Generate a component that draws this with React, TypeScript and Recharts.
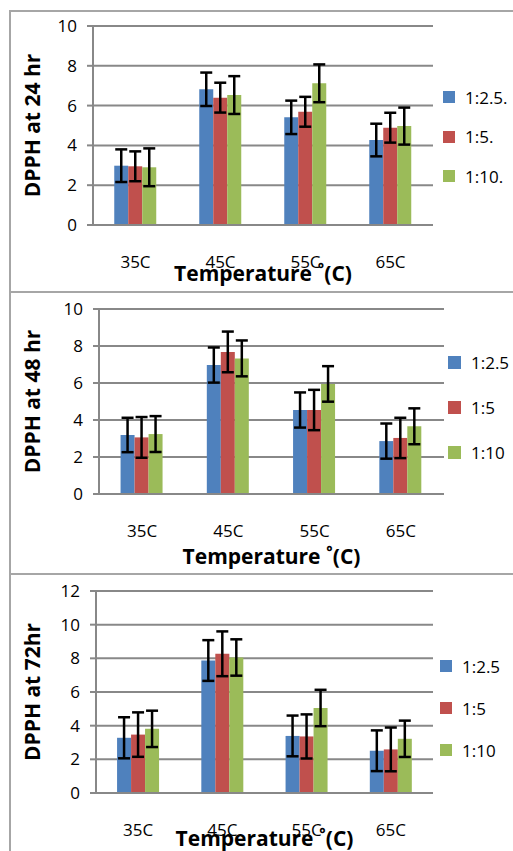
import { BarChart, Bar, XAxis, YAxis, CartesianGrid, ErrorBar, Legend } from 'recharts';

const categories = ['35C', '45C', '55C', '65C'];
const seriesKeys = ['blue', 'red', 'green'];
const seriesColors = ['#4F81BD', '#C0504D', '#9BBB59'];

// 24 hr
const names24 = ['1:2.5.', '1:5.', '1:10.'];
const blue24 = [2.98, 6.82, 5.41, 4.27];
const red24 = [2.95, 6.4, 5.69, 4.89];
const green24 = [2.9, 6.53, 7.12, 4.97];
const blueErr24 = [0.82, 0.84, 0.84, 0.82];
const redErr24 = [0.75, 0.75, 0.75, 0.75];
const greenErr24 = [0.95, 0.95, 0.95, 0.93];
const ticks24 = [0, 2, 4, 6, 8, 10];

// 48 hr
const names48 = ['1:2.5', '1:5', '1:10'];
const blue48 = [3.19, 6.97, 4.54, 2.86];
const red48 = [3.06, 7.68, 4.54, 3.03];
const green48 = [3.24, 7.33, 5.95, 3.66];
const blueErr48 = [0.93, 0.95, 0.95, 0.95];
const redErr48 = [1.1, 1.1, 1.09, 1.09];
const greenErr48 = [0.97, 0.97, 0.96, 0.97];
const ticks48 = [0, 2, 4, 6, 8, 10];

// 72 hr
const names72 = ['1:2.5', '1:5', '1:10'];
const blue72 = [3.28, 7.87, 3.39, 2.51];
const red72 = [3.47, 8.27, 3.36, 2.59];
const green72 = [3.81, 8.05, 5.05, 3.22];
const blueErr72 = [1.22, 1.21, 1.21, 1.21];
const redErr72 = [1.32, 1.33, 1.31, 1.3];
const greenErr72 = [1.08, 1.08, 1.08, 1.08];
const ticks72 = [0, 2, 4, 6, 8, 10, 12];

const xTitle = 'Temperature \u02DA(C)';

function buildRows(vals: number[][], errs: number[][]) {
  return categories.map((cat, i) => ({
    cat,
    blue: vals[0][i],
    red: vals[1][i],
    green: vals[2][i],
    blueErr: errs[0][i],
    redErr: errs[1][i],
    greenErr: errs[2][i],
  }));
}

const FONT = "'Open Sans', sans-serif";
const GRID = '#888888';

interface PanelProps {
  top: number;
  height: number;
  rows: any[];
  names: string[];
  ticks: number[];
  yLabel: string;
  plotTop: number;
  plotLeft: number;
  plotRight: number;
  xAxisHeight: number;
  titleOffset: number;
  legendLeft: number;
  legendTop: number;
  legendGap: number;
  swatch: number;
}

function LegendBox({ names, gap, swatch }: { names: string[]; gap: number; swatch: number }) {
  return (
    <div style={{ display: 'flex', flexDirection: 'column', gap: gap - 24 }}>
      {names.map((n, i) => (
        <div key={n} style={{ display: 'flex', alignItems: 'center', height: 24 }}>
          <span style={{ width: swatch, height: swatch, background: seriesColors[i], display: 'inline-block' }} />
          <span style={{ marginLeft: 10, fontSize: 17, fontFamily: FONT, color: '#000', whiteSpace: 'nowrap' }}>{n}</span>
        </div>
      ))}
    </div>
  );
}

function Panel(p: PanelProps) {
  const max = p.ticks[p.ticks.length - 1];
  return (
    <div style={{ position: 'absolute', left: 0, top: p.top }}>
      <BarChart
        width={513}
        height={p.height}
        data={p.rows}
        margin={{ top: p.plotTop, right: 513 - p.plotRight, left: 0, bottom: 0 }}
        barCategoryGap="25%"
        barGap={0}
      >
        <CartesianGrid horizontal vertical={false} stroke={GRID} strokeWidth={2} />
        <XAxis
          dataKey="cat"
          height={p.xAxisHeight}
          tickLine={false}
          axisLine={{ stroke: GRID, strokeWidth: 2 }}
          tickMargin={25}
          tick={{ fill: '#000', fontSize: 17, fontFamily: FONT }}
          label={{
            value: xTitle,
            position: 'insideTop',
            offset: p.titleOffset,
            style: { fill: '#000', fontSize: 21, fontWeight: 700, fontFamily: FONT },
          }}
        />
        <YAxis
          domain={[0, max]}
          ticks={p.ticks}
          width={p.plotLeft}
          axisLine={{ stroke: GRID, strokeWidth: 2 }}
          tickLine={{ stroke: GRID, strokeWidth: 2 }}
          tickSize={6}
          tickMargin={10}
          tick={{ fill: '#000', fontSize: 17, fontFamily: FONT }}
          label={{
            value: p.yLabel,
            angle: -90,
            position: 'insideLeft',
            offset: 33,
            style: { fill: '#000', fontSize: 21, fontWeight: 700, fontFamily: FONT, textAnchor: 'middle' },
          }}
        />
        <Legend
          layout="horizontal"
          verticalAlign="middle"
          align="center"
          wrapperStyle={{ left: p.legendLeft, top: p.legendTop, width: 80 }}
          content={() => <LegendBox names={p.names} gap={p.legendGap} swatch={p.swatch} />}
        />
        {seriesKeys.map((k, i) => (
          <Bar key={k} dataKey={k} name={p.names[i]} fill={seriesColors[i]} isAnimationActive={false}>
            <ErrorBar dataKey={k + 'Err'} width={6} strokeWidth={2.5} stroke="#000" direction="y" />
          </Bar>
        ))}
      </BarChart>
    </div>
  );
}

const borderColor = '#a6a6a6';

export default function App() {
  return (
    <div style={{ position: 'absolute', left: 0, top: 0, width: 513, height: 851, overflow: 'hidden', background: '#fff' }}>
      <div style={{ position: 'absolute', left: 9, top: 10, width: 520, height: 283, boxSizing: 'border-box', border: `2px solid ${borderColor}` }} />
      <div style={{ position: 'absolute', left: 9, top: 291, width: 520, height: 284, boxSizing: 'border-box', border: `2px solid ${borderColor}` }} />
      <div style={{ position: 'absolute', left: 9, top: 573, width: 520, height: 300, boxSizing: 'border-box', border: `2px solid ${borderColor}` }} />
      <Panel
        top={0}
        height={292}
        rows={buildRows([blue24, red24, green24], [blueErr24, redErr24, greenErr24])}
        names={names24}
        ticks={ticks24}
        yLabel="DPPH at 24 hr"
        plotTop={26}
        plotLeft={93}
        plotRight={433}
        xAxisHeight={67}
        titleOffset={41}
        legendLeft={443}
        legendTop={85}
        legendGap={39.5}
        swatch={12}
      />
      <Panel
        top={292}
        height={282}
        rows={buildRows([blue48, red48, green48], [blueErr48, redErr48, greenErr48])}
        names={names48}
        ticks={ticks48}
        yLabel="DPPH at 48 hr"
        plotTop={17}
        plotLeft={99}
        plotRight={444}
        xAxisHeight={80}
        titleOffset={55}
        legendLeft={448}
        legendTop={58}
        legendGap={45}
        swatch={13}
      />
      <Panel
        top={574}
        height={277}
        rows={buildRows([blue72, red72, green72], [blueErr72, redErr72, greenErr72])}
        names={names72}
        ticks={ticks72}
        yLabel="DPPH at 72hr"
        plotTop={17}
        plotLeft={96}
        plotRight={433}
        xAxisHeight={58}
        titleOffset={38}
        legendLeft={440}
        legendTop={80}
        legendGap={42}
        swatch={12}
      />
    </div>
  );
}
